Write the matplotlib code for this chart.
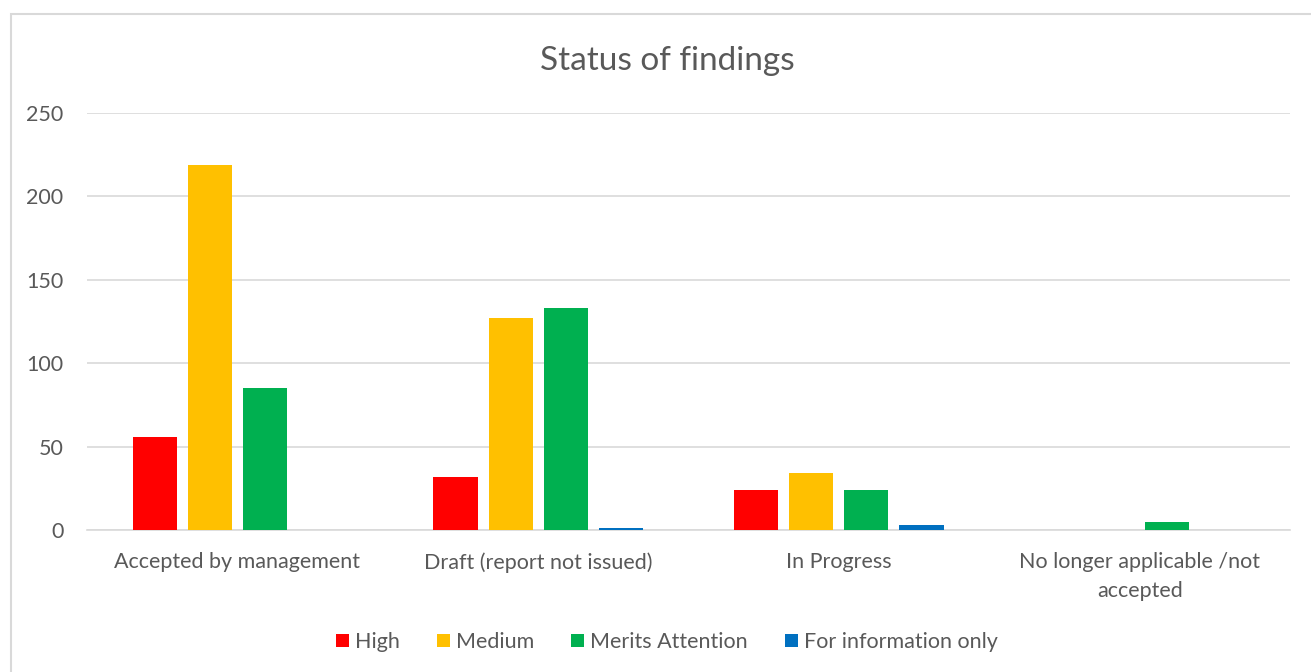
import numpy as np
import matplotlib.pyplot as plt
from matplotlib.patches import Rectangle

plt.rcParams['font.family'] = ['Lato', 'DejaVu Sans']

categories = ['Accepted by management', 'Draft (report not issued)', 'In Progress',
              'No longer applicable /not\naccepted']
series = ['High', 'Medium', 'Merits Attention', 'For information only']
high = [56, 32, 24, 0]
medium = [219, 127, 34, 0]
merits = [85, 133, 24, 5]
info = [0, 1, 3, 0]
colors = ['#ff0000', '#ffc000', '#00b050', '#0070c0']
yticks = [0, 50, 100, 150, 200, 250]

TEXT = '#595959'

fig = plt.figure(figsize=(13.11, 6.72), dpi=100)
fig.patches.append(Rectangle((11 / 1311, -0.1), 1.2, 1 - 14 / 672 + 0.1,
                             transform=fig.transFigure, fill=False,
                             edgecolor='#d9d9d9', linewidth=1.5))
ax = fig.add_axes([87 / 1311, 1 - 530 / 672, (1290 - 87) / 1311, (530 - 113) / 672])

x = np.arange(len(categories))
step = 0.183
width = 0.147
for i, (name, vals) in enumerate(zip(series, [high, medium, merits, info])):
    ax.bar(x + (i - 1.5) * step, vals, width, color=colors[i], label=name, zorder=3)

ax.set_xlim(-0.5, len(categories) - 0.5)
ax.set_ylim(0, 250)
ax.set_yticks(yticks)
ax.yaxis.grid(True, color='#d9d9d9', linewidth=1.2, zorder=0)
for s in ['top', 'right', 'left']:
    ax.spines[s].set_visible(False)
ax.spines['bottom'].set_color('#d9d9d9')
ax.spines['bottom'].set_linewidth(1.2)
ax.tick_params(axis='both', length=0, colors=TEXT, labelsize=15.5)
ax.tick_params(axis='y', pad=17)
ax.tick_params(axis='x', pad=16)
ax.set_xticks(x)
ax.set_xticklabels(categories, linespacing=1.55)

fig.text(667 / 1311, 1 - 61 / 672, 'Status of findings', ha='center', va='center',
         fontsize=24, color=TEXT)
fig.legend(loc='center', bbox_to_anchor=(667 / 1311, 1 - 642 / 672), ncol=4,
           frameon=False, fontsize=15.5, handlelength=0.6, handleheight=0.6,
           handletextpad=0.3, columnspacing=1.7, labelcolor=TEXT)

fig.savefig('out.png', dpi=100)
